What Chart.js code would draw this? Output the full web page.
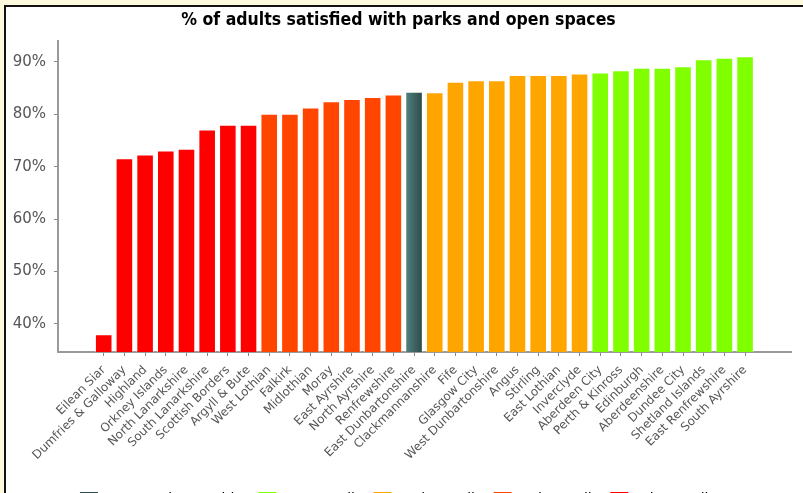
<!DOCTYPE html>
<html>
<head>
<meta charset="utf-8">
<title>% of adults satisfied with parks and open spaces</title>
<script src="https://cdn.jsdelivr.net/npm/chart.js@4/dist/chart.umd.min.js"></script>
<style>
  html, body { margin: 0; padding: 0; overflow: hidden; background: #fcf9dc; }
  .panel {
    position: absolute; left: 4px; top: 5px; right: -10px; bottom: -10px;
    background: #ffffff;
    border-top: 2px solid #111;
    border-left: 2px solid #111;
  }
  .holder { position: absolute; left: 0; top: 0; width: 803px; height: 516px; }
</style>
</head>
<body>
<div class="panel"></div>
<div class="holder"><canvas id="chart" width="803" height="516"></canvas></div>
<script>
// Council areas, ordered from lowest to highest satisfaction
const councils = [
  'Eilean Siar', 'Dumfries & Galloway', 'Highland', 'Orkney Islands',
  'North Lanarkshire', 'South Lanarkshire', 'Scottish Borders', 'Argyll & Bute',
  'West Lothian', 'Falkirk', 'Midlothian', 'Moray', 'East Ayrshire',
  'North Ayrshire', 'Renfrewshire', 'East Dunbartonshire', 'Clackmannanshire',
  'Fife', 'Glasgow City', 'West Dunbartonshire', 'Angus', 'Stirling',
  'East Lothian', 'Inverclyde', 'Aberdeen City', 'Perth & Kinross', 'Edinburgh',
  'Aberdeenshire', 'Dundee City', 'Shetland Islands', 'East Renfrewshire',
  'South Ayrshire'
];

// % of adults satisfied with parks and open spaces
const satisfied = [
  38.0, 71.6, 72.3, 73.1, 73.4, 77.1, 78.0, 78.0,
  80.1, 80.1, 81.3, 82.5, 82.9, 83.3, 83.8, 84.3,
  84.2, 86.2, 86.5, 86.5, 87.5, 87.5, 87.5, 87.8,
  88.0, 88.4, 88.9, 88.9, 89.2, 90.5, 90.8, 91.1
];

// Legend groups and which group each council belongs to
const groups = ['East Dunbartonshire', '1st quartile', '2nd quartile', '3rd quartile', '4th quartile'];
const groupColors = ['#2f4f4f', '#7fff00', '#ffa500', '#ff4500', '#ff0000'];
const groupOf = [
  4, 4, 4, 4, 4, 4, 4, 4,
  3, 3, 3, 3, 3, 3, 3, 0,
  2, 2, 2, 2, 2, 2, 2, 2,
  1, 1, 1, 1, 1, 1, 1, 1
];

const yTicks = [40, 50, 60, 70, 80, 90];

const labelFont = "'DejaVu Sans', sans-serif";

// The highlighted council gets a shaded fill, the rest a flat colour
function barFill(c) {
  const i = c.dataIndex;
  const base = groupColors[groupOf[i]];
  if (groupOf[i] !== 0) return base;
  const chart = c.chart;
  const xs = chart.scales && chart.scales.x;
  if (!xs || !chart.chartArea) return base;
  const px = xs.getPixelForValue(i);
  const g = chart.ctx.createLinearGradient(px - 9, 0, px + 9, 0);
  g.addColorStop(0, '#52837f');
  g.addColorStop(1, '#2b4848');
  return g;
}

new Chart(document.getElementById('chart'), {
  type: 'bar',
  data: {
    datasets: [{
      data: satisfied.map((v, i) => ({ x: i, y: v })),
      backgroundColor: barFill,
      borderColor: 'rgba(255,255,255,0.4)',
      borderWidth: 1,
      categoryPercentage: 1,
      barPercentage: 0.85
    }]
  },
  options: {
    responsive: false,
    animation: false,
    layout: { padding: { left: 6, right: 12, top: 0, bottom: 0 } },
    plugins: {
      tooltip: { enabled: false },
      title: {
        display: true,
        text: '% of adults satisfied with parks and open spaces',
        color: '#000',
        font: { family: "'DejaVu Sans Condensed', 'DejaVu Sans', sans-serif", size: 17.5, weight: 'bold' },
        padding: { top: 10, bottom: 10 }
      },
      legend: {
        position: 'bottom',
        onClick: null,
        labels: {
          color: '#555',
          font: { family: labelFont, size: 14 },
          boxWidth: 18,
          boxHeight: 14,
          padding: 10,
          generateLabels: () => groups.map((g, k) => ({
            text: g,
            fillStyle: groupColors[k],
            strokeStyle: groupColors[k],
            lineWidth: 0,
            hidden: false,
            datasetIndex: 0
          }))
        }
      }
    },
    scales: {
      x: {
        type: 'linear',
        offset: false,
        min: -2.21,
        max: 33.22,
        afterBuildTicks: (s) => { s.ticks = councils.map((_, i) => ({ value: i })); },
        afterFit: (s) => { s.height = 130; },
        ticks: {
          autoSkip: false,
          maxRotation: 45,
          minRotation: 45,
          padding: 7,
          color: '#555',
          font: { family: labelFont, size: 12 },
          callback: (v) => councils[v]
        },
        grid: { display: true, offset: false, drawOnChartArea: false, tickLength: 4, color: '#888', lineWidth: 1 },
        border: { display: true, color: '#9a9a9a', width: 2 }
      },
      y: {
        min: 34.6,
        max: 94,
        afterBuildTicks: (s) => { s.ticks = yTicks.map(v => ({ value: v })); },
        afterFit: (s) => { s.width = 52; },
        ticks: {
          padding: 8,
          color: '#555',
          font: { family: labelFont, size: 15 },
          callback: (v) => v + '%'
        },
        grid: { display: true, drawOnChartArea: false, tickLength: 4, color: '#888', lineWidth: 1 },
        border: { display: true, color: '#9a9a9a', width: 2 }
      }
    }
  }
});
</script>
</body>
</html>
